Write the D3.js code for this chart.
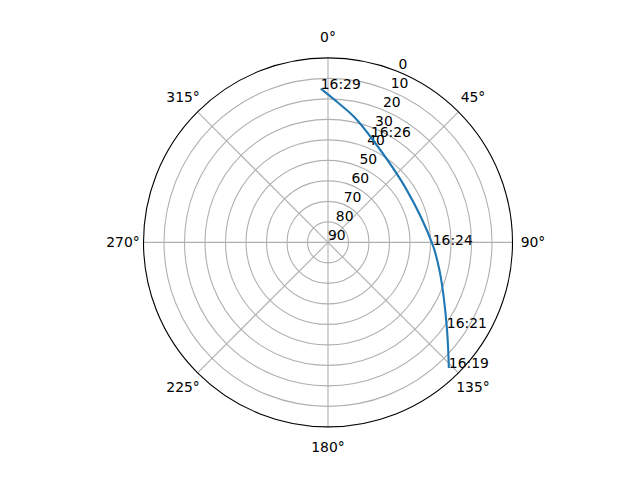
<html>
<head>
  <meta charset="utf-8">
  <title>satellite pass skyplot</title>
  <script src="https://cdn.jsdelivr.net/npm/d3@7"></script>
  <style>
    body { margin: 0; background: #fff; }
    text { font-family: "DejaVu Sans", sans-serif; font-size: 13.9px; fill: #000; }
  </style>
</head>
<body>
  <svg id="chart" width="640" height="480"></svg>
  <script>
    // pass track, one sample per minute
    var times = ["16:19", "16:20", "16:21", "16:22", "16:23", "16:24", "16:25", "16:26", "16:27", "16:28", "16:29"];
    var azimuth = [136.1, 131.3, 125.7, 116.4, 105.0, 91.4, 55.4, 22.2, 11.7, 3.9, 357.3];
    var elevation = [5.0, 12.0, 18.6, 26.8, 33.5, 38.9, 43.8, 34.6, 27.4, 21.5, 14.9];
    var labelTimes = ["16:19", "16:21", "16:24", "16:26", "16:29"];
    var thetaTicks = [0, 45, 90, 135, 180, 225, 270, 315];
    var rTicks = [0, 10, 20, 30, 40, 50, 60, 70, 80, 90];

    var cx = 328, cy = 242.4, R = 184.5;
    var svg = d3.select("#chart");
    svg.append("rect").attr("width", 640).attr("height", 480).attr("fill", "#fff");
    var g = svg.append("g").attr("transform", "translate(" + cx + "," + cy + ")");

    var r = d3.scaleLinear().domain([0, 90]).range([R, 0]);
    var ang = function (d) { return d * Math.PI / 180; };

    // grid circles
    g.selectAll("circle.grid")
      .data(rTicks.filter(function (d) { return d > 0 && d < 90; }))
      .enter().append("circle")
      .attr("class", "grid")
      .attr("r", function (d) { return r(d); })
      .attr("fill", "none")
      .attr("stroke", "#b0b0b0")
      .attr("stroke-width", 1.1);

    // spokes
    g.selectAll("line.spoke")
      .data(thetaTicks)
      .enter().append("line")
      .attr("class", "spoke")
      .attr("x1", 0).attr("y1", 0)
      .attr("x2", function (d) { return R * Math.sin(ang(d)); })
      .attr("y2", function (d) { return -R * Math.cos(ang(d)); })
      .attr("stroke", "#b0b0b0")
      .attr("stroke-width", 1.1);

    // outer spine
    g.append("circle")
      .attr("r", R)
      .attr("fill", "none")
      .attr("stroke", "#000")
      .attr("stroke-width", 1.1);

    // theta labels
    g.selectAll("text.theta")
      .data(thetaTicks)
      .enter().append("text")
      .attr("class", "theta")
      .attr("x", function (d) { return (R + 20.5) * Math.sin(ang(d)); })
      .attr("y", function (d) { return -(R + 20.5) * Math.cos(ang(d)); })
      .attr("text-anchor", "middle")
      .attr("dominant-baseline", "central")
      .text(function (d) { return d + "\u00b0"; });

    // radial labels at 22.5 deg
    var la = ang(22.5);
    g.selectAll("text.rlab")
      .data(rTicks)
      .enter().append("text")
      .attr("class", "rlab")
      .attr("x", function (d) { return r(d) * Math.sin(la); })
      .attr("y", function (d) { return -r(d) * Math.cos(la) - 2.5; })
      .text(function (d) { return d; });

    // track
    var pts = times.map(function (t, i) {
      var a = azimuth[i] > 180 ? azimuth[i] - 360 : azimuth[i];
      return { t: t, az: a, el: elevation[i] };
    });
    var line = d3.lineRadial()
      .angle(function (d) { return ang(d.az); })
      .radius(function (d) { return r(d.el); })
      .curve(d3.curveCatmullRom);
    g.append("path")
      .datum(pts)
      .attr("d", line)
      .attr("fill", "none")
      .attr("stroke", "#1f77b4")
      .attr("stroke-width", 2.1);

    // time labels
    g.selectAll("text.tlab")
      .data(pts.filter(function (d) { return labelTimes.indexOf(d.t) >= 0; }))
      .enter().append("text")
      .attr("class", "tlab")
      .attr("x", function (d) { return r(d.el) * Math.sin(ang(d.az)); })
      .attr("y", function (d) { return -r(d.el) * Math.cos(ang(d.az)); })
      .text(function (d) { return d.t; });
  </script>
</body>
</html>
